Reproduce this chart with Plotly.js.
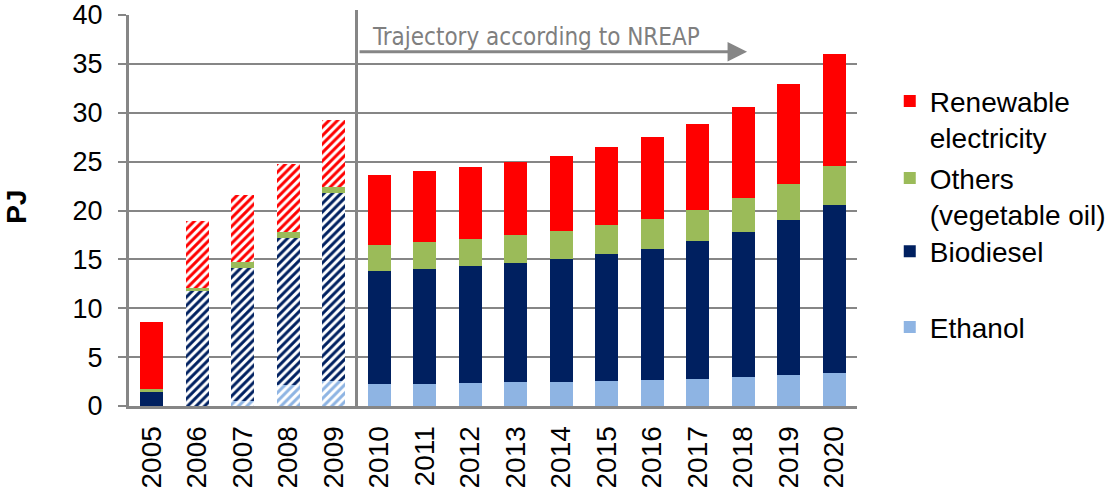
<!DOCTYPE html>
<html>
<head>
<meta charset="utf-8">
<script src="https://cdn.plot.ly/plotly-3.0.1.min.js"></script>
<style>html,body{margin:0;padding:0;background:#fff;}#chart{width:1113px;height:492px;}</style>
</head>
<body>
<div id="chart"></div>
<script>
const years = ['2005','2006','2007','2008','2009','2010','2011','2012','2013','2014','2015','2016','2017','2018','2019','2020'];
const ethanol   = [0, 0, 0.5, 2.2, 2.55, 2.25, 2.28, 2.38, 2.42, 2.49, 2.59, 2.66, 2.76, 2.93, 3.17, 3.37];
const biodiesel = [1.46, 11.79, 13.58, 15.0, 19.25, 11.59, 11.76, 11.93, 12.17, 12.51, 12.91, 13.39, 14.11, 14.89, 15.88, 17.21];
const others    = [0.31, 0.31, 0.64, 0.6, 0.6, 2.66, 2.70, 2.73, 2.86, 2.9, 3.0, 3.1, 3.23, 3.45, 3.68, 4.02];
const renewable = [6.82, 6.8, 6.85, 6.98, 6.84, 7.15, 7.32, 7.36, 7.55, 7.7, 8.0, 8.32, 8.77, 9.33, 10.19, 11.39];
const seriesNames = ['Ethanol', 'Biodiesel', 'Others<br>(vegetable oil)', 'Renewable<br>electricity'];
const annotationText = 'Trajectory according to NREAP';
const axisTitle = 'PJ';

// style: which years are drawn hatched (historical data)
const hatched = years.map(y => (+y >= 2006 && +y <= 2009) ? '/' : '');
const solid = years.map(() => '');

const FONT = 'Liberation Sans, Arial, sans-serif';
const GRAY = '#868686';

function barTrace(name, values, color, shapes, legendId) {
  return {
    type: 'bar', name: name, x: years, y: values,
    marker: {
      color: color, line: {width: 0},
      pattern: {shape: shapes, fgcolor: color, bgcolor: 'white', size: 6, solidity: 0.5, fillmode: 'replace'}
    },
    legend: legendId,
    hoverinfo: 'x+y+name'
  };
}

const data = [
  barTrace(seriesNames[0], ethanol, '#8EB4E3', hatched, 'legend4'),
  barTrace(seriesNames[1], biodiesel, '#002060', hatched, 'legend3'),
  barTrace(seriesNames[2], others, '#9BBB59', solid, 'legend2'),
  barTrace(seriesNames[3], renewable, '#FF0000', hatched, 'legend')
];

function leg(y) {
  return {x: 1.045, xanchor: 'left', y: y, yanchor: 'top', valign: 'top', bgcolor: 'rgba(0,0,0,0)',
          font: {family: FONT, size: 28, color: '#000'}};
}

const layout = {
  width: 1113, height: 492,
  margin: {l: 129, r: 256, t: 15, b: 86, pad: 0, autoexpand: false},
  paper_bgcolor: '#fff', plot_bgcolor: '#fff',
  barmode: 'stack', bargap: 0.49,
  font: {family: FONT, size: 28, color: '#000'},
  showlegend: true,
  legend: leg(0.843),
  legend2: leg(0.646),
  legend3: leg(0.459),
  legend4: leg(0.265),
  xaxis: {
    type: 'category', showline: true, linecolor: GRAY, linewidth: 3,
    ticks: '', tickangle: -90, ticklabelstandoff: 6, tickfont: {family: FONT, size: 28, color: '#000'},
    showgrid: false, zeroline: false
  },
  yaxis: {
    range: [0, 40], dtick: 5, tick0: 0,
    showline: true, linecolor: GRAY, linewidth: 3,
    ticks: 'outside', ticklen: 8, tickwidth: 2, tickcolor: GRAY, ticklabelstandoff: 10,
    ticklabeloverflow: 'allow',
    showgrid: true, gridcolor: GRAY, gridwidth: 2, zeroline: false,
    tickfont: {family: FONT, size: 27, color: '#000'}
  },
  shapes: [
    {type: 'line', xref: 'x', yref: 'paper', x0: 4.5, x1: 4.5, y0: 0, y1: 1.013,
     line: {color: GRAY, width: 3}, layer: 'above'}
  ],
  annotations: [
    {xref: 'paper', yref: 'paper', x: -0.154, y: 0.509, text: '<b>' + axisTitle + '</b>', textangle: -90,
     showarrow: false, font: {family: FONT, size: 28, color: '#000'}, xanchor: 'center', yanchor: 'middle'},
    {xref: 'x domain', yref: 'y', x: 0.331, y: 37.7, text: annotationText, showarrow: false,
     xanchor: 'left', yanchor: 'middle',
     font: {family: 'Liberation Sans Narrow, Arial Narrow, DejaVu Sans Condensed, sans-serif', size: 24, color: '#7f7f7f'}},
    {xref: 'x domain', yref: 'y', axref: 'x domain', ayref: 'y', x: 0.849, y: 36.23, ax: 0.3146, ay: 36.23,
     text: '', showarrow: true, arrowhead: 2, arrowsize: 1.3, arrowwidth: 3, arrowcolor: GRAY, standoff: 0}
  ]
};

Plotly.newPlot('chart', data, layout, {displayModeBar: false, staticPlot: true});
</script>
</body>
</html>
